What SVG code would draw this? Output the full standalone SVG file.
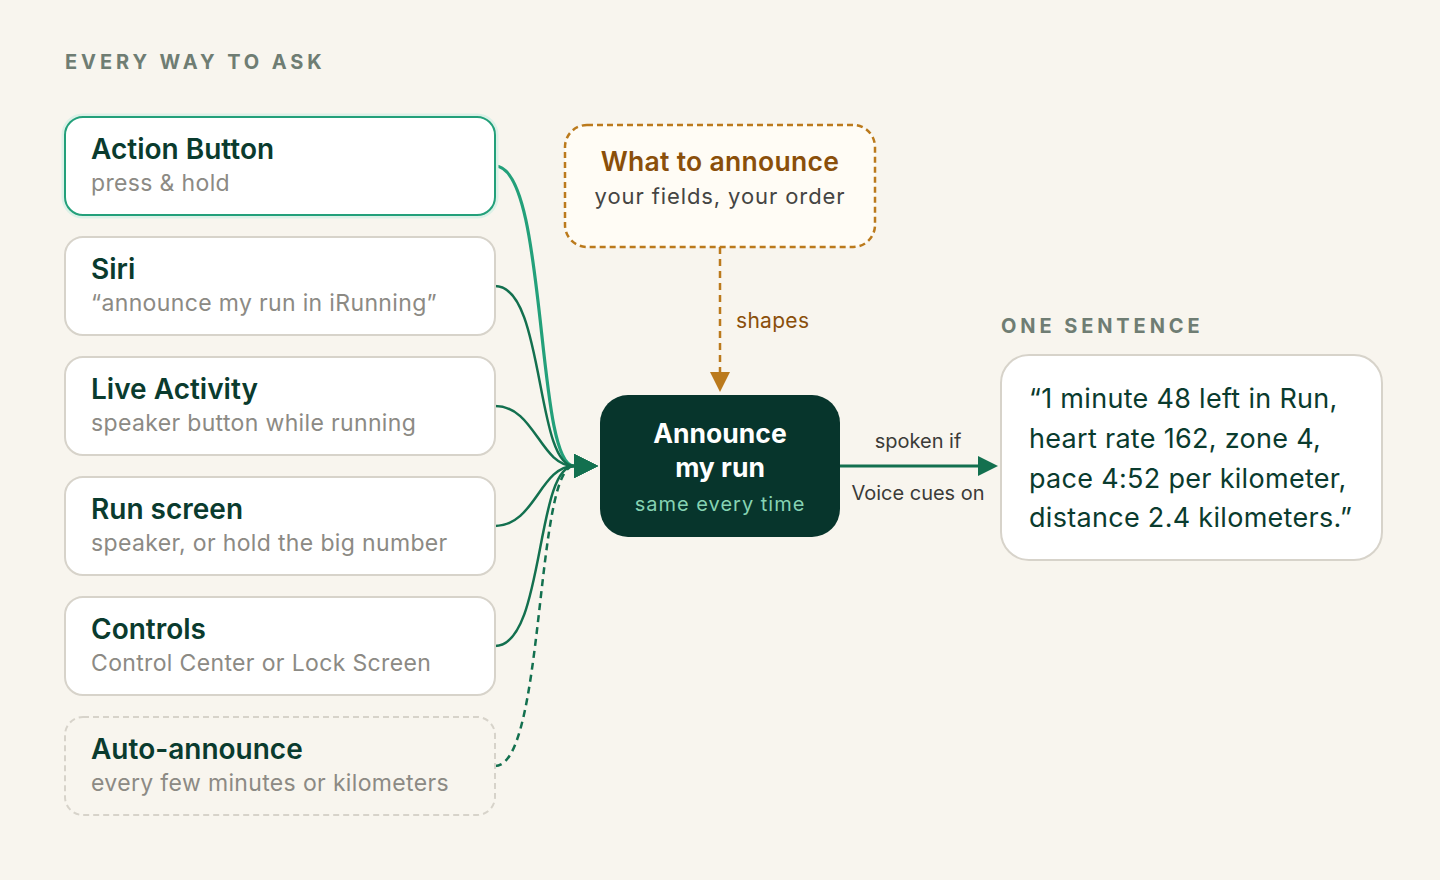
<svg xmlns="http://www.w3.org/2000/svg" width="1440" height="880" viewBox="0 0 1440 880">
<defs>
<style>
text{font-family:Inter,"Noto Sans","Liberation Sans",sans-serif}
.cap{font-size:20px;font-weight:700;letter-spacing:3.9px;fill:#6f7d73}
.card{fill:#fff;stroke:#d7d3ca;stroke-width:2}
.t{font-size:28px;font-weight:600;fill:#0a3b2e}
.s{font-size:23px;letter-spacing:0.35px;fill:#8c8a84}
.conn{fill:none;stroke:#13704f;stroke-width:2.5}
</style>
<marker id="ah" viewBox="0 0 24 24" refX="0" refY="12" markerWidth="24" markerHeight="24" markerUnits="userSpaceOnUse" orient="auto">
<path d="M0,0 L24,12 L0,24 Z" fill="#13704f"/>
</marker>
<marker id="ahs" viewBox="0 0 20 20" refX="0" refY="10" markerWidth="20" markerHeight="20" markerUnits="userSpaceOnUse" orient="auto">
<path d="M0,0 L20,10 L0,20 Z" fill="#13704f"/>
</marker>
<marker id="aho" viewBox="0 0 20 20" refX="0" refY="10" markerWidth="20" markerHeight="20" markerUnits="userSpaceOnUse" orient="auto">
<path d="M0,0 L20,10 L0,20 Z" fill="#bb7a1c"/>
</marker>
</defs>
<rect width="1440" height="880" fill="#f8f5ee"/>
<text class="cap" x="65" y="69">EVERY WAY TO ASK</text>
<text class="cap" x="1001" y="333">ONE SENTENCE</text>

<g id="connectors">
<path d="M495,166 C548,166 535,466 574,466" fill="none" stroke="#23a07a" stroke-width="3.2"/>
<path class="conn" d="M495,286 C545,286 535,466 574,466" marker-end="url(#ah)"/>
<path class="conn" d="M495,406 C535,406 540,466 574,466" marker-end="url(#ah)"/>
<path class="conn" d="M495,526 C535,526 540,466 574,466" marker-end="url(#ah)"/>
<path class="conn" d="M495,646 C545,646 535,466 574,466" marker-end="url(#ah)"/>
<path class="conn" d="M495,766 C545,766 535,466 574,466" stroke-dasharray="7 5" marker-end="url(#ah)"/>
<path d="M720,247 L720,372" fill="none" stroke="#bb7a1c" stroke-width="2.5" stroke-dasharray="7 5" marker-end="url(#aho)"/>
<path d="M840,466 L978,466" fill="none" stroke="#13704f" stroke-width="3" marker-end="url(#ahs)"/>
<text x="736" y="328" font-size="21" letter-spacing="0.3" fill="#8a4f0a">shapes</text>
<text x="918" y="448" font-size="20" fill="#3b3b38" text-anchor="middle">spoken if</text>
<text x="918" y="500" font-size="20" fill="#3b3b38" text-anchor="middle">Voice cues on</text>
</g>

<g id="action-button">
<rect x="65" y="117" width="430" height="98" rx="18" fill="none" stroke="#dcf1e7" stroke-width="7"/>
<rect x="65" y="117" width="430" height="98" rx="18" fill="#fff" stroke="#23a07a" stroke-width="2"/>
<text class="t" x="91" y="159">Action Button</text>
<text class="s" x="91" y="191">press &amp; hold</text>
</g>
<g id="siri">
<rect class="card" x="65" y="237" width="430" height="98" rx="18"/>
<text class="t" x="91" y="279">Siri</text>
<text class="s" x="91" y="311">“announce my run in iRunning”</text>
</g>
<g id="live-activity">
<rect class="card" x="65" y="357" width="430" height="98" rx="18"/>
<text class="t" x="91" y="399">Live Activity</text>
<text class="s" x="91" y="431">speaker button while running</text>
</g>
<g id="run-screen">
<rect class="card" x="65" y="477" width="430" height="98" rx="18"/>
<text class="t" x="91" y="519">Run screen</text>
<text class="s" x="91" y="551">speaker, or hold the big number</text>
</g>
<g id="controls">
<rect class="card" x="65" y="597" width="430" height="98" rx="18"/>
<text class="t" x="91" y="639">Controls</text>
<text class="s" x="91" y="671">Control Center or Lock Screen</text>
</g>
<g id="auto-announce">
<rect x="65" y="717" width="430" height="98" rx="18" fill="none" stroke="#d7d3ca" stroke-width="2" stroke-dasharray="6 4"/>
<text class="t" x="91" y="759">Auto-announce</text>
<text class="s" x="91" y="791">every few minutes or kilometers</text>
</g>

<g id="what-to-announce">
<rect x="565" y="125" width="310" height="122" rx="22" fill="#fffcf5" stroke="#bb7a1c" stroke-width="2.5" stroke-dasharray="6 4"/>
<text x="720" y="171" font-size="26.5" font-weight="600" letter-spacing="0.3" fill="#8a4f0a" text-anchor="middle">What to announce</text>
<text x="720" y="204" font-size="22" letter-spacing="0.9" fill="#454543" text-anchor="middle">your fields, your order</text>
</g>

<g id="announce-my-run">
<rect x="600" y="395" width="240" height="142" rx="28" fill="#07352c"/>
<text x="720" y="443" font-size="26.5" font-weight="700" fill="#fff" text-anchor="middle">Announce</text>
<text x="720" y="477" font-size="26.5" font-weight="700" fill="#fff" text-anchor="middle">my run</text>
<text x="720" y="511" font-size="20" letter-spacing="1" fill="#86d3b3" text-anchor="middle">same every time</text>
</g>

<g id="one-sentence">
<rect x="1001" y="355" width="381" height="205" rx="28" fill="#fff" stroke="#d7d3ca" stroke-width="2"/>
<g font-size="27" letter-spacing="0.3" fill="#0a3b2e">
<text x="1029" y="408">“1 minute 48 left in Run,</text>
<text x="1029" y="448">heart rate 162, zone 4,</text>
<text x="1029" y="488">pace 4:52 per kilometer,</text>
<text x="1029" y="527">distance 2.4 kilometers.”</text>
</g>
</g>
</svg>
